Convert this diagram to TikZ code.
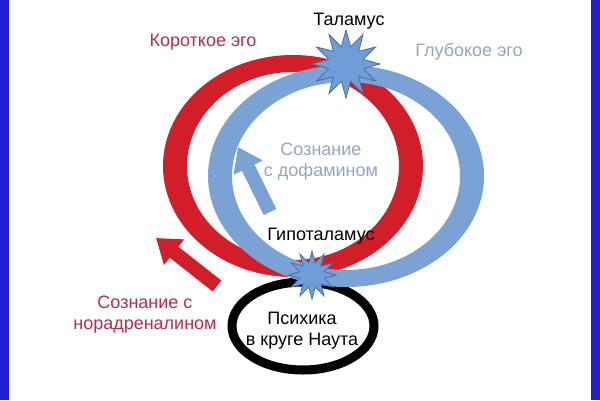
\documentclass[tikz,border=0pt]{standalone}
\usepackage{fontspec}
\setmainfont{Liberation Sans}
\usepackage{xcolor}
\usepackage{tikz}
\usetikzlibrary{arrows.meta,shapes.geometric}

\definecolor{ringred}{RGB}{210,30,40}
\definecolor{ringblue}{RGB}{122,162,212}
\definecolor{txtred}{RGB}{186,45,72}
\definecolor{txtblue}{RGB}{146,166,192}
\definecolor{burstfill}{RGB}{112,157,215}
\definecolor{burstedge}{RGB}{70,110,170}
\definecolor{frameblue}{RGB}{32,32,210}

\begin{document}
\begin{tikzpicture}[
  x=1pt, y=-1pt,
  lbl/.style={font=\fontsize{18}{21}\selectfont, inner sep=0pt, align=center},
  burst/.style={star, star points=12, star point ratio=1.9, draw=burstedge,
               fill=burstfill, line width=0.8pt, inner sep=0pt},
  blockarrow/.style={line width=14pt, -{Triangle[width=31pt, length=23pt]}},
]

% === Frame ===
\useasboundingbox (0,0) rectangle (600,400);
\fill[frameblue] (0,0) rectangle (9,400);
\fill[frameblue] (591,0) rectangle (600,400);

% === Rings ===
\draw[line width=9pt] (303,326) ellipse [x radius=71, y radius=44];
\fill[ringred, even odd rule]
  (293,166) ellipse [x radius=130, y radius=111]
  (293,166) ellipse [x radius=106, y radius=94];
\fill[ringblue, even odd rule]
  (346,176) ellipse [x radius=138, y radius=111]
  (346,176) ellipse [x radius=114, y radius=94];

% === Bursts ===
\node[burst, minimum size=68pt] (thal) at (346,64) {};
\node[burst, minimum size=48pt] (hypo) at (312,275) {};

% === Labels ===
\node[lbl] (thallbl) at (349,21) {Таламус};
\node[lbl] (hypolbl) at (321,236) {Гипоталамус};
\node[lbl, text=txtred] (short) at (203,42) {Короткое эго};
\node[lbl, text=txtblue] (deep) at (469,52) {Глубокое эго};
\node[lbl, text=txtblue] (dopa) at (321,162) {Сознание\\с дофамином};
\node[lbl, text=txtred] (nora) at (145,315) {Сознание с\\норадреналином};
\node[lbl] (psyche) at (302,331) {Психика\\в круге Наута};

% === Block arrows ===
\coordinate (redtail) at (217,286);
\coordinate (redtip) at (156,238);
\coordinate (bluetail) at (270,212);
\coordinate (bluetip) at (238,147);
\draw[blockarrow, ringred] (redtail) -- (redtip);
\draw[blockarrow, ringblue] (bluetail) -- (bluetip);

\end{tikzpicture}
\end{document}
